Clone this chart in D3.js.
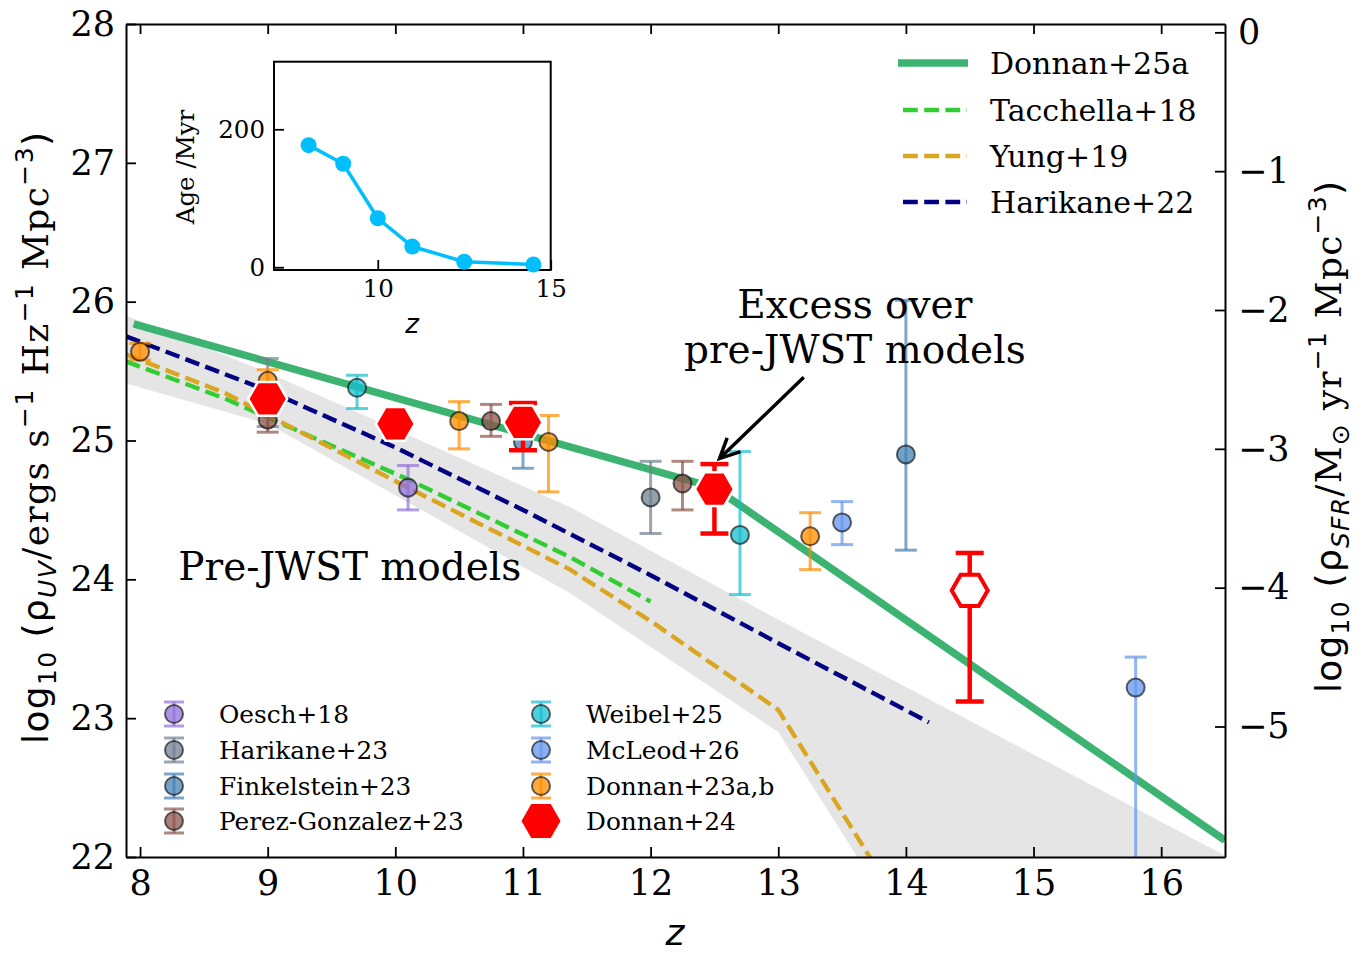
<!DOCTYPE html>
<html>
<head>
<meta charset="utf-8">
<script src="https://cdn.jsdelivr.net/npm/d3@7"></script>
<style>
  body { margin: 0; background: #fff; }
</style>
</head>
<body>
<div id="chart"></div>
<script>
// ---- data ----
const zTicks = [8, 9, 10, 11, 12, 13, 14, 15, 16];
const uvTicks = [22, 23, 24, 25, 26, 27, 28];
const sfrTicks = [0, -1, -2, -3, -4, -5];
const kappaUV = 27.94; // log10 rho_UV - log10 rho_SFR

// model curves [z, log rho_UV]
const donnan25a = [[7.95, 25.84], [12.5, 24.66], [16.5, 22.12]];
const tacchella18 = [[7.89, 25.57], [8.67, 25.30], [10.1, 24.72], [11.37, 24.16], [12.0, 23.84]];
const yung19 = [[7.89, 25.62], [8.67, 25.34], [10.1, 24.66], [11.37, 24.07], [12.0, 23.70], [13.0, 23.06], [13.75, 21.95]];
const harikane22 = [[7.89, 25.75], [9, 25.36], [10, 24.95], [11, 24.50], [12, 24.03], [13, 23.54], [14.18, 22.97]];

// grey envelope of pre-JWST models
const bandUpper = [[7.89, 25.90], [9, 25.49], [11.37, 24.52], [13, 23.71], [16.5, 22.01]];
const bandLower = [[7.89, 25.41], [9, 25.12], [11.37, 23.90], [13, 22.90], [13.62, 22.0], [16.5, 21.9]];

// observations [z, value, lower, upper]
const oesch18 = [[10.1, 24.66, 24.50, 24.82]];
const harikane23 = [[9.0, 25.34, 25.10, 25.59], [12.0, 24.59, 24.33, 24.85]];
const finkelstein23 = [[11.0, 24.99, 24.80, 25.18], [14.0, 24.90, 24.21, 26.01]];
const perezGonzalez23 = [[9.0, 25.15, 25.06, 25.28], [10.75, 25.14, 25.03, 25.26], [12.25, 24.69, 24.50, 24.85]];
const weibel25 = [[9.7, 25.38, 25.23, 25.47], [12.7, 24.32, 23.89, 24.92]];
const mcleod26 = [[13.5, 24.41, 24.25, 24.56], [15.8, 23.22, 21.0, 23.44]];
const donnan23 = [[8.0, 25.64, 25.58, 25.70], [9.0, 25.43, 25.35, 25.51], [10.5, 25.14, 24.94, 25.28],
                  [11.2, 24.99, 24.63, 25.18], [13.25, 24.31, 24.07, 24.48]];
const donnan24 = [[9.0, 25.30, 25.24, 25.36], [10.0, 25.12, 25.06, 25.18], [11.0, 25.13, 24.93, 25.27], [12.5, 24.65, 24.33, 24.83]];
const donnan24Open = [[14.5, 23.92, 23.12, 24.19]];

// inset: stellar age vs z
const ageZ = [8, 9, 10, 11, 12.5, 14.5];
const ageMyr = [177, 150, 71, 30, 8, 4];

// ---- layout ----
const W = 1360, H = 960;
const L = 126, R = 1225, T = 24, B = 857;
const serif = "DejaVu Serif", sans = "DejaVu Sans";

const svg = d3.select("#chart").append("svg").attr("width", W).attr("height", H);

const x = d3.scaleLinear().domain([7.89, 16.5]).range([L, R]);
const y = d3.scaleLinear().domain([22, 28]).range([B, T]);
const yR = d3.scaleLinear().domain([22 - kappaUV, 28 - kappaUV]).range([B, T]);

svg.append("clipPath").attr("id", "plot").append("rect")
  .attr("x", L).attr("y", T).attr("width", R - L).attr("height", B - T);

const plot = svg.append("g").attr("clip-path", "url(#plot)");
const line = d3.line().x(d => x(d[0])).y(d => y(d[1]));

// band
plot.append("path")
  .attr("d", line(bandUpper.concat(bandLower.slice().reverse())) + "Z")
  .attr("fill", "#e5e5e5");

// dashed models
const dash = "14.8,6.4";
const dashed = [[tacchella18, "#32cd32"], [yung19, "#daa520"], [harikane22, "#000080"]];
dashed.forEach(([d, c]) => {
  plot.append("path").attr("d", line(d)).attr("fill", "none")
    .attr("stroke", c).attr("stroke-width", 4.4).attr("stroke-dasharray", dash);
});

// Donnan+25a
plot.append("path").attr("d", line(donnan25a)).attr("fill", "none")
  .attr("stroke", "#3cb371").attr("stroke-width", 7.5);

// observations
const surveys = [
  { name: "Oesch+18", data: oesch18, color: "#9370db" },
  { name: "Harikane+23", data: harikane23, color: "#708090" },
  { name: "Finkelstein+23", data: finkelstein23, color: "#4682b4" },
  { name: "Perez-Gonzalez+23", data: perezGonzalez23, color: "#8c564b" },
  { name: "Weibel+25", data: weibel25, color: "#17becf" },
  { name: "McLeod+26", data: mcleod26, color: "#6495ed" },
  { name: "Donnan+23a,b", data: donnan23, color: "#ff8c00" }
];

function errorbar(g, cx, y0, y1, color, cap, width, op) {
  g.append("line").attr("x1", cx).attr("x2", cx).attr("y1", y0).attr("y2", y1)
    .attr("stroke", color).attr("stroke-width", width).attr("stroke-opacity", op);
  [y0, y1].forEach(yy => g.append("line").attr("x1", cx - cap).attr("x2", cx + cap)
    .attr("y1", yy).attr("y2", yy).attr("stroke", color).attr("stroke-width", width).attr("stroke-opacity", op));
}
function circleMark(g, cx, cy, color) {
  g.append("circle").attr("cx", cx).attr("cy", cy).attr("r", 9)
    .attr("fill", color).attr("fill-opacity", 0.75)
    .attr("stroke", "#000").attr("stroke-opacity", 0.6).attr("stroke-width", 2);
}
function hexPath(r) {
  const pts = d3.range(6).map(i => [r * Math.cos(i * Math.PI / 3), r * Math.sin(i * Math.PI / 3)]);
  return "M" + pts.join("L") + "Z";
}

const pts = svg.append("g").attr("clip-path", "url(#plot)");
surveys.forEach(s => {
  const g = pts.append("g");
  s.data.forEach(d => errorbar(g, x(d[0]), y(d[2]), y(d[3]), s.color, 11, 3, 0.7));
  s.data.forEach(d => circleMark(g, x(d[0]), y(d[1]), s.color));
});

// Donnan+24 hexagons
const hexG = svg.append("g").attr("clip-path", "url(#plot)");
donnan24.concat(donnan24Open).forEach(d => {
  errorbar(hexG, x(d[0]), y(d[2]), y(d[3]), "#ff0000", 14, 4.5, 1);
});
hexG.selectAll(".hexf").data(donnan24).join("path")
  .attr("transform", d => `translate(${x(d[0])},${y(d[1])})`)
  .attr("d", hexPath(19.5)).attr("fill", "#ff0000")
  .attr("stroke", "#fff").attr("stroke-width", 2.5);
hexG.selectAll(".hexo").data(donnan24Open).join("path")
  .attr("transform", d => `translate(${x(d[0])},${y(d[1])})`)
  .attr("d", hexPath(18)).attr("fill", "#fff")
  .attr("stroke", "#ff0000").attr("stroke-width", 4);

// ---- axes ----
function styleAxis(g, size) {
  g.select(".domain").attr("stroke-width", 2);
  g.selectAll(".tick line").attr("stroke-width", 1.8);
  g.selectAll(".tick text").attr("font-family", serif).attr("font-size", size).attr("fill", "#000");
}
const xAxis = svg.append("g").attr("transform", `translate(0,${B})`)
  .call(d3.axisBottom(x).tickValues(zTicks).tickFormat(d3.format("d")).tickSize(-10).tickSizeOuter(0).tickPadding(13));
styleAxis(xAxis, 35);
const xTop = svg.append("g").attr("transform", `translate(0,${T})`)
  .call(d3.axisTop(x).tickValues(zTicks).tickFormat("").tickSize(-10).tickSizeOuter(0));
styleAxis(xTop, 35);
const yAxis = svg.append("g").attr("transform", `translate(${L},0)`)
  .call(d3.axisLeft(y).tickValues(uvTicks).tickFormat(d3.format("d")).tickSize(-10).tickSizeOuter(0).tickPadding(11));
styleAxis(yAxis, 35);
const yAxisR = svg.append("g").attr("transform", `translate(${R},0)`)
  .call(d3.axisRight(yR).tickValues(sfrTicks).tickFormat(d => d === 0 ? "0" : "\u2212" + Math.abs(d))
    .tickSize(-10).tickSizeOuter(0).tickPadding(13));
styleAxis(yAxisR, 35);

function richText(g, parts) {
  const t = g.append("text").attr("fill", "#000");
  let prev = 0;
  parts.forEach(p => {
    const sh = p.sh || 0;
    t.append("tspan").text(p.t).attr("font-family", p.f).attr("font-size", p.s)
      .attr("font-style", p.i ? "italic" : "normal").attr("dy", sh - prev);
    prev = sh;
  });
  return t;
}

svg.append("text").attr("x", 675).attr("y", 945).attr("text-anchor", "middle")
  .attr("font-family", sans).attr("font-style", "italic").attr("font-size", 36).text("z");

const yl = svg.append("g").attr("transform", "translate(48,438) rotate(-90)");
richText(yl, [
  { t: "log", f: sans, s: 36 }, { t: "10", f: sans, s: 25, sh: 8 },
  { t: " (\u03c1", f: sans, s: 36 }, { t: "UV", f: sans, s: 25, sh: 8, i: true },
  { t: "/ergs s", f: serif, s: 36 }, { t: "\u22121", f: sans, s: 25, sh: -15 },
  { t: " Hz", f: serif, s: 36 }, { t: "\u22121", f: sans, s: 25, sh: -15 },
  { t: " Mpc", f: serif, s: 36 }, { t: "\u22123", f: sans, s: 25, sh: -15 },
  { t: ")", f: sans, s: 36 }
]).attr("text-anchor", "middle").attr("textLength", 612).attr("lengthAdjust", "spacing");

const yr = svg.append("g").attr("transform", "translate(1341,437) rotate(-90)");
richText(yr, [
  { t: "log", f: sans, s: 36 }, { t: "10", f: sans, s: 25, sh: 8 },
  { t: " (\u03c1", f: sans, s: 36 }, { t: "SFR", f: sans, s: 25, sh: 8, i: true },
  { t: "/M", f: serif, s: 36 }, { t: "\u2299", f: sans, s: 25, sh: 8 },
  { t: " yr", f: serif, s: 36 }, { t: "\u22121", f: sans, s: 25, sh: -15 },
  { t: " Mpc", f: serif, s: 36 }, { t: "\u22123", f: sans, s: 25, sh: -15 },
  { t: ")", f: sans, s: 36 }
]).attr("text-anchor", "middle").attr("textLength", 512).attr("lengthAdjust", "spacing");

// ---- annotations ----
svg.append("text").attr("x", x(8.3)).attr("y", y(24.09)).attr("dy", "0.35em")
  .attr("font-family", serif).attr("font-size", 39).text("Pre-JWST models");
svg.append("text").attr("x", x(13.6)).attr("y", y(25.98)).attr("dy", "0.35em").attr("text-anchor", "middle")
  .attr("font-family", serif).attr("font-size", 39).text("Excess over");
svg.append("text").attr("x", x(13.6)).attr("y", y(25.66)).attr("dy", "0.35em").attr("text-anchor", "middle")
  .attr("font-family", serif).attr("font-size", 39).text("pre-JWST models");

const tail = [x(13.2), y(25.455)], head = [x(12.54), y(24.87)];
const ang = Math.atan2(tail[1] - head[1], tail[0] - head[0]);
const arm = 22, spread = 0.45;
svg.append("path")
  .attr("d", `M${tail}L${head}M${[head[0] + arm * Math.cos(ang + spread), head[1] + arm * Math.sin(ang + spread)]}L${head}L${[head[0] + arm * Math.cos(ang - spread), head[1] + arm * Math.sin(ang - spread)]}`)
  .attr("fill", "none").attr("stroke", "#000").attr("stroke-width", 3.5);

// ---- legends ----
const lineLegend = [
  { name: "Donnan+25a", color: "#3cb371", width: 7.5, dash: null },
  { name: "Tacchella+18", color: "#32cd32", width: 4.4, dash: dash },
  { name: "Yung+19", color: "#daa520", width: 4.4, dash: dash },
  { name: "Harikane+22", color: "#000080", width: 4.4, dash: dash }
];
const legRowsY = [63, 110, 156, 202];
lineLegend.forEach((d, i) => {
  const g = svg.append("g").attr("transform", `translate(0,${legRowsY[i]})`);
  g.append("line").attr("x1", d.dash ? 903 : 898).attr("x2", d.dash ? 967 : 968)
    .attr("stroke", d.color).attr("stroke-width", d.width).attr("stroke-dasharray", d.dash);
  g.append("text").attr("x", 990).attr("dy", "0.35em").attr("font-family", serif)
    .attr("font-size", 30).text(d.name);
});

const ptRowsY = [714, 750, 786, 821];
const ptLegend = surveys.map(s => ({ name: s.name, color: s.color }));
ptLegend.push({ name: "Donnan+24", color: "#ff0000", hex: true });
ptLegend.forEach((d, i) => {
  const col = Math.floor(i / 4), row = i % 4;
  const mx = col === 0 ? 174 : 541, my = ptRowsY[row];
  const g = svg.append("g");
  if (d.hex) {
    g.append("path").attr("transform", `translate(${mx},${my})`).attr("d", hexPath(19.5)).attr("fill", "#ff0000");
  } else {
    errorbar(g, mx, my - 12, my + 12, d.color, 10, 3, 0.7);
    circleMark(g, mx, my, d.color);
  }
  g.append("text").attr("x", mx + 45).attr("y", my).attr("dy", "0.35em")
    .attr("font-family", serif).attr("font-size", 24.8).text(d.name);
});

// ---- inset ----
const xi = d3.scaleLinear().domain([7, 15]).range([274, 550.7]);
const yi = d3.scaleLinear().domain([-4, 298]).range([270, 61.7]);
const inset = svg.append("g");
inset.append("rect").attr("x", 274).attr("y", 61.7).attr("width", 276.7).attr("height", 208.3)
  .attr("fill", "#fff").attr("stroke", "#000").attr("stroke-width", 2);
const ix = inset.append("g").attr("transform", "translate(0,270)")
  .call(d3.axisBottom(xi).tickValues([10, 15]).tickSize(-10).tickSizeOuter(0).tickPadding(10));
styleAxis(ix, 24.5);
const iy = inset.append("g").attr("transform", "translate(274,0)")
  .call(d3.axisLeft(yi).tickValues([0, 200]).tickSize(-10).tickSizeOuter(0).tickPadding(9));
styleAxis(iy, 24.5);
ix.select(".domain").remove();
iy.select(".domain").remove();
const ageData = ageZ.map((z, i) => [z, ageMyr[i]]);
inset.append("path").attr("d", d3.line().x(d => xi(d[0])).y(d => yi(d[1]))(ageData))
  .attr("fill", "none").attr("stroke", "#00bfff").attr("stroke-width", 3.5);
inset.selectAll(".age").data(ageData).join("circle")
  .attr("cx", d => xi(d[0])).attr("cy", d => yi(d[1])).attr("r", 8).attr("fill", "#00bfff");
inset.append("text").attr("x", 412).attr("y", 333).attr("text-anchor", "middle")
  .attr("font-family", sans).attr("font-style", "italic").attr("font-size", 26).text("z");
inset.append("text").attr("transform", "translate(194,167) rotate(-90)").attr("text-anchor", "middle")
  .attr("font-family", serif).attr("font-size", 24.5).text("Age /Myr");
</script>
</body>
</html>
